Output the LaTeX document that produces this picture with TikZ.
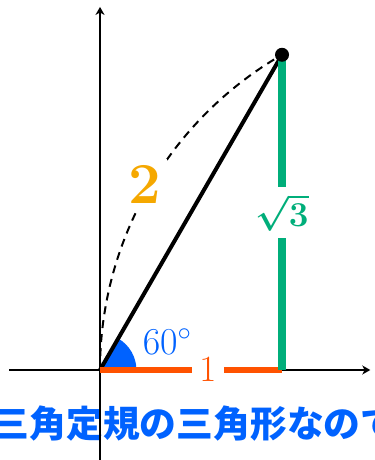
\RequirePackage{fix-cm}
\documentclass[tikz,border=0pt]{standalone}
\usepackage{amsmath,amssymb}
\usepackage{fontspec}
\newfontfamily\jpfont{Noto Sans CJK JP}
\usepackage{xcolor}
\usepackage{tikz}
\usetikzlibrary{arrows.meta}

\definecolor{hypoorange}{RGB}{245,168,0}
\definecolor{baseorange}{RGB}{255,82,0}
\definecolor{heightgreen}{RGB}{0,174,122}
\definecolor{angleblue}{RGB}{0,98,255}

\begin{document}
\begin{tikzpicture}[
x=91pt, y=91pt,
axis/.style={-{Stealth[length=4pt,width=4.5pt,inset=1.2pt]}, line width=0.7pt},
sideline/.style={line width=3.2pt},
sidelabel/.style={fill=white, inner sep=3pt}
]
\useasboundingbox (-0.5495,-0.4945) rectangle (1.5055,2.033);
\coordinate (O) at (0,0);
\coordinate (A) at (1,0);
\coordinate (P) at (1,1.732);
\coordinate (xl) at (-0.5,0);
\coordinate (xr) at (1.485,0);
\coordinate (yb) at (0,-0.6);
\coordinate (yt) at (0,1.995);
% caption under the axes
\node[text=angleblue, font=\jpfont\bfseries\fontsize{18.4}{20}\selectfont] (cap) at (0.522,-0.297) {三角定規の三角形なので};
\draw[axis] (xl) -- (xr);
\draw[axis] (yb) -- (yt);
% radius 2 arc and angle
\draw[line width=1pt, dash pattern=on 4pt off 3pt] (O) arc[start angle=180, end angle=120, radius=2];
\fill[angleblue] (O) -- (0.2,0) arc[start angle=0, end angle=60, radius=0.2] -- cycle;
\node[sidelabel, text=hypoorange, font=\fontsize{29}{31}\selectfont\bfseries] (two) at (0.245,1.02) {2};
\node[text=angleblue, font=\fontsize{19}{21}\selectfont] (deg) at (0.37,0.154) {$60^\circ$};
% sides
\draw[line width=2pt] (O) -- (P);
\draw[sideline, baseorange] (O) -- node[sidelabel, pos=0.593, inner xsep=3.6pt, text=baseorange, font=\fontsize{18.5}{20}\selectfont] (one) {$1$} (A);
\draw[sideline, heightgreen, line width=3.8pt] (A) -- node[sidelabel, inner ysep=3.5pt, text=heightgreen, font=\fontsize{17.5}{19}\selectfont] (root) {$\boldsymbol{\sqrt{3}}$} (P);
\fill (P) circle[radius=3.5pt];
\end{tikzpicture}
\end{document}
